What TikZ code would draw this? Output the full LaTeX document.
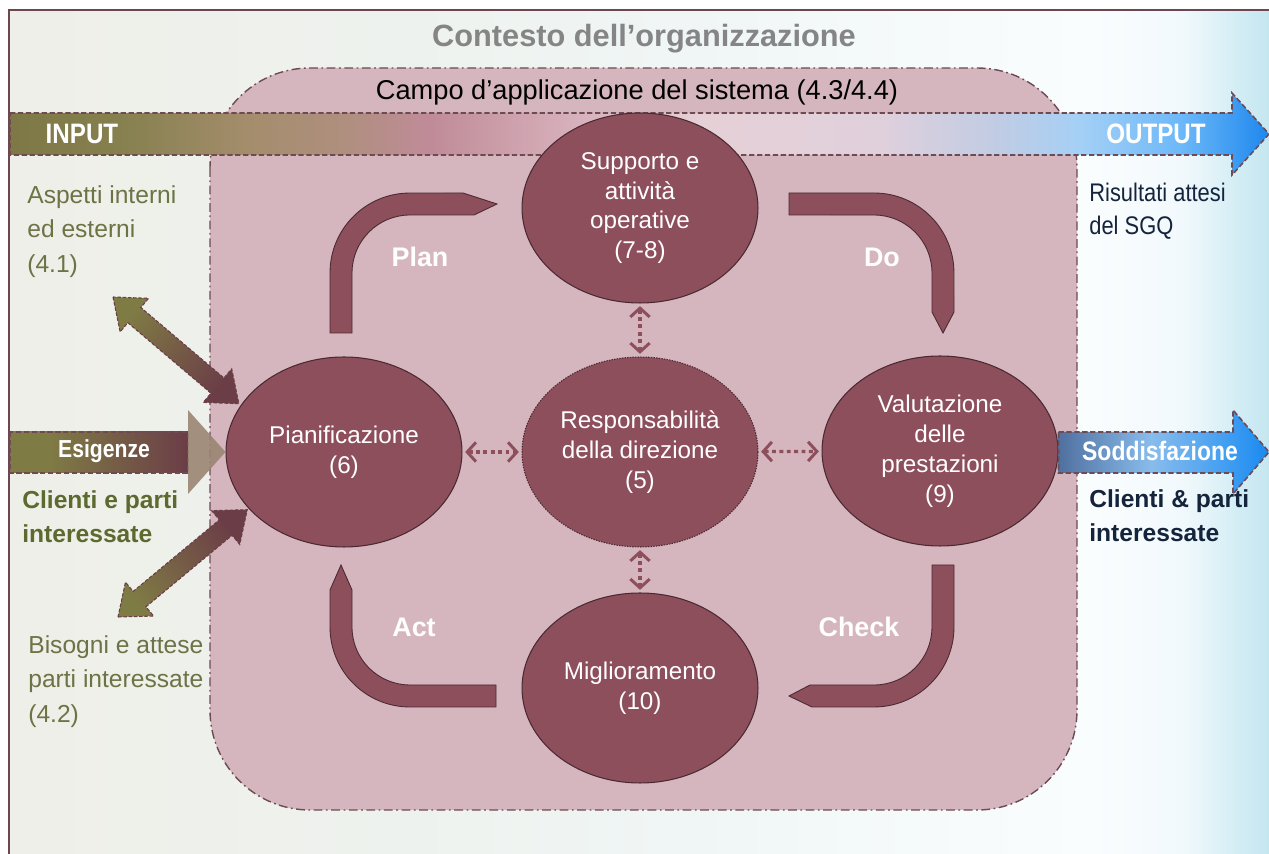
\documentclass[tikz,border=0pt]{standalone}
\usepackage{fontspec}
\setmainfont{Liberation Sans}
\newfontfamily\narrowsf{Liberation Sans}[FakeStretch=0.86]
\usetikzlibrary{shapes.geometric,arrows.meta}

\definecolor{mauve}{HTML}{8E4F5D}
\definecolor{mauvedark}{HTML}{4A2A32}
\definecolor{scopefill}{HTML}{D5B6BE}
\definecolor{scopeline}{HTML}{6E4A52}
\definecolor{framecol}{HTML}{6C4650}
\definecolor{ctxgray}{HTML}{858585}
\definecolor{olivetxt}{HTML}{6E7346}
\definecolor{olivebold}{HTML}{5C6A30}
\definecolor{navytxt}{HTML}{14243C}
\definecolor{oliveA}{HTML}{7F7B45}
\definecolor{brownA}{HTML}{6B3D47}
\definecolor{headtan}{HTML}{9A8572}

\definecolor{bandA}{HTML}{7D7845}
\definecolor{bandB}{HTML}{86804F}
\definecolor{bandC}{HTML}{A48D6C}
\definecolor{bandD}{HTML}{B08F80}
\definecolor{bandE}{HTML}{C08B99}
\definecolor{bandF}{HTML}{D3AAB5}
\definecolor{bandG}{HTML}{E6D0D6}
\definecolor{bandH}{HTML}{E0D0DC}
\definecolor{bandI}{HTML}{C0CCE4}
\definecolor{bandJ}{HTML}{A4D0F6}
\definecolor{bandK}{HTML}{6CB8F8}
\definecolor{bandL}{HTML}{1E88EE}

\definecolor{bgA}{HTML}{EEEFE8}
\definecolor{bgB}{HTML}{EEF2EE}
\definecolor{bgC}{HTML}{F0F6F6}
\definecolor{bgD}{HTML}{FAFDFE}
\definecolor{bgE}{HTML}{F2F9FC}
\definecolor{bgF}{HTML}{D8EFF6}
\definecolor{bgG}{HTML}{C4E6F0}

\definecolor{sodA}{HTML}{50709F}
\definecolor{sodB}{HTML}{88BCEC}
\definecolor{sodC}{HTML}{3C9CF2}
\definecolor{sodD}{HTML}{1A88EE}

\pgfdeclarehorizontalshading{bandshade}{100bp}{color(0bp)=(bandA); color(25bp)=(bandA); color(29.4bp)=(bandB); color(34.5bp)=(bandC); color(38.5bp)=(bandD); color(41.7bp)=(bandE); color(46.4bp)=(bandF); color(52.4bp)=(bandG); color(59.5bp)=(bandH); color(64.3bp)=(bandI); color(67.5bp)=(bandJ); color(71.5bp)=(bandK); color(75bp)=(bandL); color(100bp)=(bandL)}
\pgfdeclarehorizontalshading{bgshade}{100bp}{color(0bp)=(bgA); color(25bp)=(bgA); color(40.5bp)=(bgB); color(52.4bp)=(bgC); color(67.9bp)=(bgD); color(71.5bp)=(bgE); color(73.4bp)=(bgF); color(75bp)=(bgG); color(100bp)=(bgG)}
\pgfdeclarehorizontalshading{sodshade}{100bp}{color(0bp)=(sodA); color(25bp)=(sodA); color(47bp)=(sodB); color(66bp)=(sodC); color(75bp)=(sodD); color(100bp)=(sodD)}
\pgfdeclarehorizontalshading{esgshade}{100bp}{color(0bp)=(oliveA); color(25bp)=(oliveA); color(36bp)=(oliveA); color(75bp)=(brownA); color(100bp)=(brownA)}

\begin{document}
\begin{tikzpicture}[x=0.02cm, y=-0.02cm,
    phase/.style={ellipse, draw=mauvedark, line width=0.6pt, fill=mauve,
      minimum width=4.72cm, minimum height=3.8cm, inner sep=0pt,
      text=white, align=center, font=\fontsize{13.8}{17}\selectfont},
    pdca/.style={draw=mauvedark, line width=0.5pt, fill=mauve},
    pdcalabel/.style={text=white, font=\bfseries\fontsize{15.3}{18}\selectfont},
    dotlink/.style={draw=mauve, line width=1.9pt, dash pattern=on 2.2pt off 2pt,
      {Straight Barb[length=5pt,width=11pt,line width=1.7pt]}-{Straight Barb[length=5pt,width=11pt,line width=1.7pt]},
      shorten <=1.5pt, shorten >=1.5pt},
    bandline/.style={draw=scopeline, line width=0.9pt, dash pattern=on 3pt off 1.5pt},
    sidetxt/.style={anchor=north west, align=left, inner sep=0pt,
      font=\fontsize{14}{19.8}\selectfont},
    dblarrow/.style={draw=brownA, line width=0.6pt, dash pattern=on 2pt off 1pt}]

  % Canvas
  \useasboundingbox (0,0) rectangle (1269,854);
  \fill[white] (0,0) rectangle (1269,854);
  \fill[shading=bgshade] (9,10) rectangle (1269,854);
  \draw[framecol, line width=1.2pt] (1269,10) -- (9,10) -- (9,854);

  % Scope of the system
  \draw[fill=scopefill, draw=scopeline, line width=0.8pt, dash pattern=on 5pt off 2pt on 1pt off 2pt,
    rounded corners=2cm] (210,68) rectangle (1077,810);
  \node[anchor=base, text=ctxgray, font=\bfseries\fontsize{17.5}{20}\selectfont] (contesto) at (644,47) {Contesto dell’organizzazione};
  \node[anchor=base, font=\fontsize{15.5}{18}\selectfont] (campo) at (637,100) {Campo d’applicazione del sistema (4.3/4.4)};

  % Input / output band
  \shadedraw[shading=bandshade, bandline] (10,113) -- (1232,113) -- (1232,93) -- (1269,134)
    -- (1232,175) -- (1232,155) -- (10,155) -- cycle;
  \node[text=white, font=\narrowsf\bfseries\fontsize{16}{18}\selectfont] (input) at (82,134) {INPUT};
  \node[text=white, font=\narrowsf\bfseries\fontsize{16}{18}\selectfont] (output) at (1156,134) {OUTPUT};

  % Phases
  \node[phase] (supp) at (640,208) {Supporto e\\attività\\operative\\(7-8)};
  \node[phase] (plan) at (344,452) {Pianificazione\\(6)};
  \node[phase, draw=mauvedark, dash pattern=on 0.8pt off 0.7pt] (resp) at (640,452) {Responsabilità\\della direzione\\(5)};
  \node[phase] (valut) at (940,451) {Valutazione\\delle\\prestazioni\\(9)};
  \node[phase] (migl) at (640,688) {Miglioramento\\(10)};

  % Links to the direction
  \draw[dotlink] (plan) -- (resp);
  \draw[dotlink] (resp) -- (valut);
  \draw[dotlink] (supp) -- (resp);
  \draw[dotlink] (resp) -- (migl);

  % PDCA cycle
  \filldraw[pdca] (330,333) -- (330,273) arc[start angle=180, end angle=90, radius=1.6cm]
    -- (463,193) -- (497,204) -- (474,215) -- (410,215)
    arc[start angle=90, end angle=180, radius=1.16cm] -- (352,333) -- cycle;
  \filldraw[pdca] (789,193) -- (874,193) arc[start angle=90, end angle=0, radius=1.6cm]
    -- (954,312) -- (943,333) -- (932,312) -- (932,273)
    arc[start angle=0, end angle=90, radius=1.16cm] -- (789,215) -- cycle;
  \filldraw[pdca] (932,565) -- (954,565) -- (954,627) arc[start angle=0, end angle=-90, radius=1.6cm]
    -- (812,707) -- (789,696) -- (810,685) -- (874,685)
    arc[start angle=-90, end angle=0, radius=1.16cm] -- cycle;
  \filldraw[pdca] (496,685) -- (496,707) -- (410,707) arc[start angle=270, end angle=180, radius=1.6cm]
    -- (330,590) -- (341,565) -- (352,590) -- (352,627)
    arc[start angle=180, end angle=270, radius=1.16cm] -- cycle;
  \node[pdcalabel] (plab) at (420,257) {Plan};
  \node[pdcalabel] (dlab) at (882,257) {Do};
  \node[pdcalabel] (clab) at (859,627) {Check};
  \node[pdcalabel] (alab) at (414,627) {Act};

  % Context arrows
  \coordinate (aspEnd) at (113,297);
  \coordinate (bisEnd) at (118,617);
  \begin{scope}[shift={(aspEnd)}, rotate=-40.3]
    \shadedraw[dblarrow, top color=oliveA, bottom color=brownA, shading angle=49.7]
      (0,0) -- (28,22) -- (28,10) -- (137,10) -- (137,22) -- (165,0)
      -- (137,-22) -- (137,-10) -- (28,-10) -- (28,-22) -- cycle;
  \end{scope}
  \begin{scope}[shift={(bisEnd)}, rotate=39.7]
    \shadedraw[dblarrow, top color=oliveA, bottom color=brownA, shading angle=129.7]
      (0,0) -- (28,22) -- (28,10) -- (140,10) -- (140,22) -- (168,0)
      -- (140,-22) -- (140,-10) -- (28,-10) -- (28,-22) -- cycle;
  \end{scope}

  % Needs in, satisfaction out
  \coordinate (esgStart) at (10,452);
  \shadedraw[shading=esgshade, bandline] (esgStart |- 0,432) rectangle (188,473);
  \fill[headtan, opacity=0.9] (188,410) -- (plan.west) -- (188,494) -- cycle;
  \node[text=white, font=\narrowsf\bfseries\fontsize{14}{16}\selectfont] (esig) at (104,451) {Esigenze};
  \shadedraw[shading=sodshade, bandline] (valut.east |- 0,432) -- (1233,432) -- (1233,410) -- (1269,452)
    -- (1233,494) -- (1233,473) -- (valut.east |- 0,473) -- cycle;
  \node[text=white, font=\narrowsf\bfseries\fontsize{15.2}{17}\selectfont] (sodd) at (1160,451) {Soddisfazione};

  % Side texts
  \node[sidetxt, text=olivetxt] (aspetti) at (27,185) {Aspetti interni\\ed esterni\\(4.1)};
  \node[sidetxt, text=olivetxt] (bisogni) at (28,635) {Bisogni e attese\\parti interessate\\(4.2)};
  \node[sidetxt, text=olivebold, font=\bfseries\fontsize{14}{19.3}\selectfont] (clientiIn) at (22,490) {Clienti e parti\\interessate};
  \node[sidetxt, text=navytxt, font=\bfseries\fontsize{14}{19.3}\selectfont] (clientiOut) at (1089,489) {Clienti \& parti\\interessate};
  \node[sidetxt, text=navytxt, font=\narrowsf\fontsize{14.5}{18.7}\selectfont] (risultati) at (1089,183) {Risultati attesi\\del SGQ};
\end{tikzpicture}
\end{document}
